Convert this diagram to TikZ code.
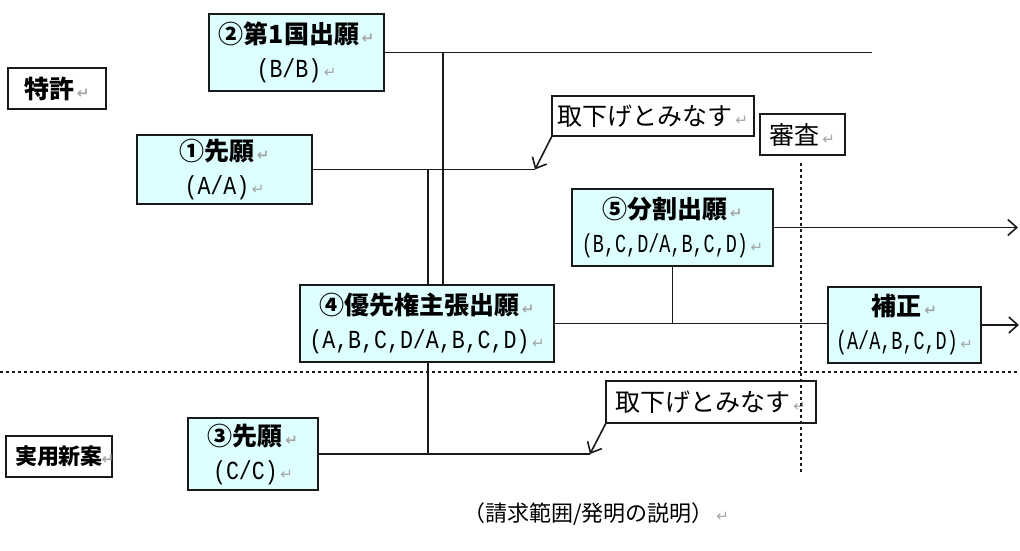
\documentclass[tikz,border=0pt]{standalone}
\usepackage{fontspec}
\usetikzlibrary{arrows.meta}
\setmainfont{Noto Sans CJK JP}
\newfontfamily\monoA[FakeStretch=0.71]{Liberation Mono}
\newfontfamily\monoB[FakeStretch=0.83]{Liberation Mono}
\newfontfamily\dvfont{DejaVu Sans}
\definecolor{boxfill}{HTML}{DDFFFF}
\definecolor{linecol}{HTML}{1A1A1A}
\newcommand{\retmark}{{\color{gray!70}\dvfont\fontsize{15}{15}\selectfont\,↵}}
\begin{document}
\begin{tikzpicture}[x=1pt,y=-1pt,
  cbox/.style={draw=linecol, line width=1.6pt, fill=boxfill, inner sep=0pt, outer sep=0pt, align=center, font=\fontsize{25}{34}\selectfont},
  wbox/.style={draw=linecol, line width=1.6pt, fill=white, inner sep=0pt, outer sep=0pt, align=center},
  conn/.style={draw=linecol, line width=1.6pt},
  arr/.style={conn, -{Straight Barb[length=9pt,width=16pt,line width=1.6pt]}},
  dotline/.style={draw=linecol, line width=1.5pt, dash pattern=on 3pt off 3pt}]
\useasboundingbox (0,0) rectangle (1020,550);

% label boxes
\node[wbox, minimum width=98, minimum height=41, font=\bfseries\fontsize{25}{25}\selectfont] (tokkyo) at (57,88.5) {特許\retmark};
\node[wbox, minimum width=106, minimum height=41, font=\bfseries\fontsize{22}{22}\selectfont] (jitsuyo) at (59,456.5) {実用新案\rlap{\kern-4pt\retmark}};

% application boxes
\node[cbox, minimum width=175, minimum height=77] (n2) at (296.5,52.5)
  {{\bfseries ②第1国出願\retmark}\\{\monoB\fontsize{26}{34}\selectfont (B/B)\retmark}};
\node[cbox, minimum width=175, minimum height=69] (n1) at (224.5,169.5)
  {{\bfseries ①先願\retmark}\\{\monoB\fontsize{26}{34}\selectfont (A/A)\retmark}};
\node[cbox, minimum width=201, minimum height=77] (n5) at (672.5,227.5)
  {{\bfseries ⑤分割出願\retmark}\\{\monoA\fontsize{26}{34}\selectfont (B,C,D/A,B,C,D)\retmark}};
\node[cbox, minimum width=254, minimum height=77] (n4) at (427,323.5)
  {{\bfseries ④優先権主張出願\retmark}\\{\monoB\fontsize{26}{34}\selectfont (A,B,C,D/A,B,C,D)\retmark}};
\node[cbox, minimum width=153, minimum height=76] (hosei) at (904.5,325)
  {{\bfseries 補正\retmark}\\{\monoA\fontsize{26}{34}\selectfont (A/A,B,C,D)\retmark}};
\node[cbox, minimum width=130, minimum height=72] (n3) at (253,454)
  {{\bfseries ③先願\retmark}\\{\monoB\fontsize{26}{34}\selectfont (C/C)\retmark}};

% note boxes
\node[wbox, minimum width=202, minimum height=40, font=\fontsize{25}{25}\selectfont] (wd1) at (653,116) {取下げとみなす\retmark};
\node[wbox, minimum width=85, minimum height=41, font=\fontsize{25}{25}\selectfont] (shinsa) at (802.5,134.5) {審査\retmark};
\node[wbox, minimum width=210, minimum height=42, font=\fontsize{25}{25}\selectfont] (wd2) at (711,402) {取下げとみなす\retmark};

% caption
\node[font=\fontsize{22}{22}\selectfont, inner sep=0pt] (cap) at (596,514) {（請求範囲/発明の説明）\retmark};

% coordinates
\coordinate (e2) at (872,52.5);
\coordinate (j2) at (443,52.5);
\coordinate (w1) at (535,169.5);
\coordinate (j1) at (428,169.5);
\coordinate (e5) at (1018,227.5);
\coordinate (e6) at (1019,325);
\coordinate (j3) at (428,454);
\coordinate (w3) at (590,454);
\coordinate (d1) at (0,372);
\coordinate (d2) at (1020,372);
\coordinate (v2) at (801,472);

% dotted lines
\draw[dotline] (d1) -- (d2);
\draw[dotline] ([yshift=-8pt]shinsa.south -| v2) -- (v2);

% connectors
\draw[conn] (n2.east) -- (e2);
\draw[conn] (j2) -- (j2 |- n4.north);
\draw[conn] (n1.east) -- (w1);
\draw[arr] (wd1.south west) -- (w1);
\draw[conn] (j1) -- (j1 |- n4.north);
\draw[conn] (n4.east) -- (n4.east -| hosei.west);
\draw[conn] (n5.south) -- (n5.south |- n4.east);
\draw[arr] (n5.east) -- (e5);
\draw[arr] (hosei.east) -- (e6);
\draw[conn] (j1 |- n4.south) -- (j3);
\draw[conn] (n3.east) -- (w3);
\draw[arr] (wd2.south west) -- (w3);
\end{tikzpicture}
\end{document}
